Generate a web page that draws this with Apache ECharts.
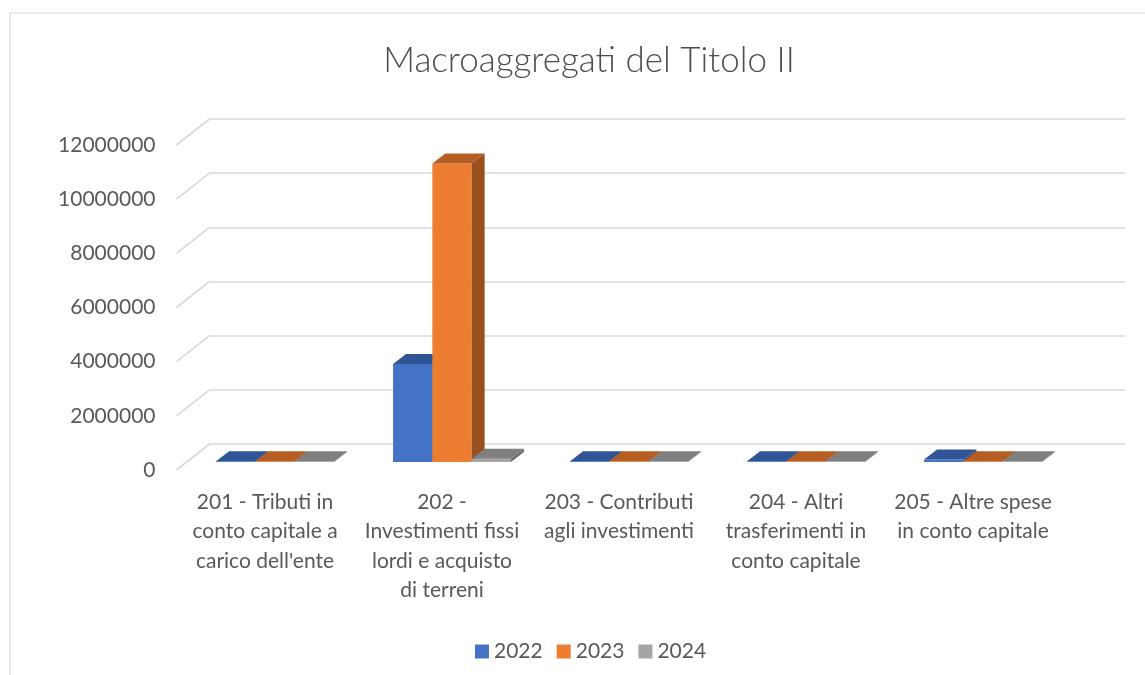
<!DOCTYPE html>
<html>
<head>
<meta charset="utf-8">
<script src="https://cdn.jsdelivr.net/npm/echarts@6/dist/echarts.min.js"></script>
<style>
  html, body { margin: 0; background: #fff; }
  #chart { width: 1145px; height: 675px; }
</style>
</head>
<body>
<div id="chart"></div>
<script>
  const categories = [
    "201 - Tributi in\nconto capitale a\ncarico dell'ente",
    "202 -\nInvestimenti fissi\nlordi e acquisto\ndi terreni",
    "203 - Contributi\nagli investimenti",
    "204 - Altri\ntrasferimenti in\nconto capitale",
    "205 - Altre spese\nin conto capitale"
  ]
  const years = ['2022', '2023', '2024']
  const values2022 = [0, 3620000, 0, 0, 90000]
  const values2023 = [0, 11020000, 0, 0, 15000]
  const values2024 = [0, 120000, 0, 0, 0]
  const yTicks = [0, 2000000, 4000000, 6000000, 8000000, 10000000, 12000000]

  // colori stile Excel: fronte, sopra, lato
  const palette = [
    { front: '#4472C4', top: '#2F5597', side: '#2B4E8C' },
    { front: '#ED7D31', top: '#B55D23', side: '#9A4F1F' },
    { front: '#A5A5A5', top: '#7F7F7F', side: '#6B6B6B' }
  ]
  const textColor = '#595959'
  const gridColor = '#D9D9D9'
  const font = 'Lato'

  // profondità del "pavimento" 3D e posizione delle barre al suo interno
  const DEPTH = { x: 33, y: -26 }
  const BAR_OFF = { x: 10, y: -8 }
  const BAR_DEPTH = { x: 13, y: -10 }
  const BAR_RATIO = 0.222

  const barRenderer = (idx) => (params, api) => {
    const cat = api.value(0)
    const v = api.value(1)
    const base = api.coord([cat, 0])
    const top = api.coord([cat, v])
    const w = api.size([1, 0])[0] * BAR_RATIO
    const x0 = base[0] - 1.5 * w + idx * w + BAR_OFF.x
    const yb = base[1] + BAR_OFF.y
    const yt = Math.min(top[1] + BAR_OFF.y, yb - 0.8)
    const c = palette[idx]
    const dx = BAR_DEPTH.x, dy = BAR_DEPTH.y
    return {
      type: 'group',
      children: [
        { type: 'rect', shape: { x: x0, y: yt, width: w, height: yb - yt }, style: { fill: c.front } },
        { type: 'polygon', shape: { points: [[x0, yt], [x0 + w, yt], [x0 + w + dx, yt + dy], [x0 + dx, yt + dy]] }, style: { fill: c.top } },
        { type: 'polygon', shape: { points: [[x0 + w, yt], [x0 + w + dx, yt + dy], [x0 + w + dx, yb + dy], [x0 + w, yb]] }, style: { fill: c.side } }
      ]
    }
  }

  const diagRenderer = (params, api) => {
    const p = api.coord([0, api.value(1)])
    const x = params.coordSys.x
    return {
      type: 'line',
      shape: { x1: x, y1: p[1], x2: x + DEPTH.x, y2: p[1] + DEPTH.y },
      style: { stroke: gridColor, lineWidth: 1.6 }
    }
  }

  const seriesValues = [values2022, values2023, values2024]

  const chart = echarts.init(document.getElementById('chart'))
  chart.setOption({
    animation: false,
    backgroundColor: '#fff',
    textStyle: { fontFamily: font },
    graphic: [{
      type: 'rect',
      shape: { x: 10, y: 13, width: 1200, height: 700 },
      style: { fill: 'none', stroke: gridColor, lineWidth: 1.2 },
      silent: true
    }],
    title: {
      text: 'Macroaggregati del Titolo II',
      left: 584,
      textAlign: 'center',
      top: 38,
      textStyle: { fontFamily: font, fontSize: 35, fontWeight: 300, color: '#4d4d4d' }
    },
    legend: {
      data: years,
      left: 470,
      top: 636,
      icon: 'rect',
      itemWidth: 14,
      itemHeight: 14,
      itemGap: 14,
      textStyle: { fontFamily: font, fontSize: 21, color: textColor }
    },
    grid: [
      // piano frontale (etichette e barre)
      { left: 176.5, width: 885, top: 145, height: 325 },
      // parete di fondo (griglia)
      { left: 209.5, right: 20, top: 119, height: 325 }
    ],
    xAxis: [
      {
        type: 'category',
        gridIndex: 0,
        data: categories,
        axisLine: { show: false },
        axisTick: { show: false },
        axisLabel: { margin: 17, fontSize: 21, lineHeight: 29.5, color: textColor, fontFamily: font, interval: 0 }
      },
      { type: 'value', gridIndex: 1, show: false }
    ],
    yAxis: [
      {
        type: 'value',
        gridIndex: 0,
        min: 0,
        max: 12000000,
        interval: 2000000,
        axisLine: { show: false },
        axisTick: { show: false },
        splitLine: { show: false },
        axisLabel: { margin: 21, fontSize: 21, color: textColor, fontFamily: font, formatter: v => String(v) }
      },
      {
        type: 'value',
        gridIndex: 1,
        min: 0,
        max: 12000000,
        interval: 2000000,
        axisLine: { show: false },
        axisTick: { show: false },
        axisLabel: { show: false },
        splitLine: { lineStyle: { color: gridColor, width: 1.6 } }
      }
    ],
    series: [
      {
        type: 'custom',
        name: 'grid-depth',
        xAxisIndex: 0,
        yAxisIndex: 0,
        z: 1,
        silent: true,
        renderItem: diagRenderer,
        data: yTicks.map(v => [0, v])
      },
      ...years.map((y, i) => ({
        type: 'custom',
        name: y,
        xAxisIndex: 0,
        yAxisIndex: 0,
        itemStyle: { color: palette[i].front },
        renderItem: barRenderer(i),
        data: seriesValues[i].map((v, k) => [k, v])
      }))
    ]
  })
</script>
</body>
</html>
